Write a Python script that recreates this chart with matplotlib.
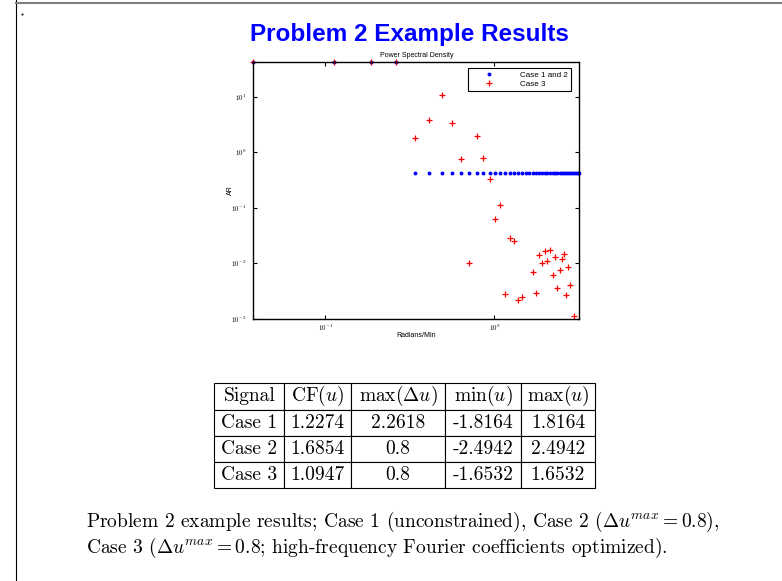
import matplotlib.pyplot as plt
import numpy as np
from matplotlib.table import Table
from matplotlib.lines import Line2D
from matplotlib.ticker import FuncFormatter, NullLocator

plt.rcParams['mathtext.fontset'] = 'cm'

# odd harmonics of the base frequency, rad/min
freq = [0.0374, 0.1122, 0.1870, 0.2618, 0.3366, 0.4114, 0.4862, 0.5610, 0.6358,
        0.7106, 0.7854, 0.8602, 0.9350, 1.0098, 1.0846, 1.1594, 1.2342, 1.3090,
        1.3838, 1.4586, 1.5334, 1.6082, 1.6830, 1.7578, 1.8326, 1.9074, 1.9822,
        2.0570, 2.1318, 2.2066, 2.2814, 2.3562, 2.4310, 2.5058, 2.5806, 2.6554,
        2.7302, 2.8050, 2.8798, 2.9546, 3.0294, 3.1042, 3.1790]
ar_case12 = [42.6, 42.6, 42.6, 42.6] + [0.42] * 39
nan = np.nan
ar_case3 = [42.6, 42.6, 42.6, 42.6, 1.79, 3.76, 10.6, 3.32, 0.748, 0.0102, 1.99,
            0.789, 0.331, 0.0634, 0.112, 0.0028, 0.0282, 0.0252, 0.00219, 0.0024,
            nan, nan, 0.00678, 0.00288, 0.0137, 0.0100, 0.0162, 0.0111, 0.0169,
            0.00608, 0.0131, 0.00349, 0.00759, 0.0119, 0.0147, 0.00266, 0.00847,
            0.00406, nan, 0.00113, nan, nan, nan]

col_labels = ['Signal', r'CF$(u)$', r'$\max(\Delta u)$', r'$\min(u)$', r'$\max(u)$']
signals = ['Case 1', 'Case 2', 'Case 3']
cf = ['1.2274', '1.6854', '1.0947']
max_du = ['2.2618', '0.8', '0.8']
min_u = ['-1.8164', '-2.4942', '-1.6532']
max_u = ['1.8164', '2.4942', '1.6532']

caption1 = r'Problem 2 example results; Case 1 (unconstrained), Case 2 ($\Delta u^{max} = 0.8$),'
caption2 = r'Case 3 ($\Delta u^{max} = 0.8$; high-frequency Fourier coefficients optimized).'

fig = plt.figure(figsize=(7.82, 5.81), dpi=100)

# slide frame
fig.add_artist(Line2D([16 / 782, 16 / 782], [0, 1], color='k', lw=0.8))
fig.add_artist(Line2D([16 / 782, 1], [1 - 2.5 / 581, 1 - 2.5 / 581], color='#808080', lw=1.5))
fig.add_artist(Line2D([22 / 782], [1 - 14 / 581], marker='.', ms=1, color='k', ls='none'))

fig.text(0.523, 0.9294, 'Problem 2 Example Results', ha='center', va='baseline',
         fontsize=17.5, fontweight='bold', color='#0000FF', family='Liberation Sans')

ax = fig.add_axes([0.3239, 0.4518, 0.4169, 0.442])
ax.plot(freq, ar_case12, 'o', color='#0000FF', ms=2.8, mew=0, clip_on=False, label='Case 1 and 2')
ax.plot(freq, ar_case3, '+', color='#FF0000', ms=4, mew=0.9, clip_on=False, label='Case 3')
ax.set_xscale('log')
ax.set_yscale('log')
ax.set_xlim(freq[0], freq[-1])
ax.set_ylim(1e-3, 42.6)
ax.set_xticks([0.1, 1])
ax.set_yticks([1e-3, 1e-2, 1e-1, 1, 10])
ax.xaxis.set_minor_locator(NullLocator())
ax.yaxis.set_minor_locator(NullLocator())
fmt = FuncFormatter(lambda v, p: r'$\mathsf{10^{%d}}$' % round(np.log10(v)))
ax.xaxis.set_major_formatter(fmt)
ax.yaxis.set_major_formatter(fmt)
ax.tick_params(direction='in', length=3, width=0.8, top=True, right=True, labelsize=5)
ax.tick_params(axis='y', pad=5)
ax.tick_params(axis='x', pad=3)
for s in ax.spines.values():
    s.set_linewidth(1.0)

ax.set_title('Power Spectral Density', fontsize=5, pad=3.4, family='Liberation Sans')
ax.set_xlabel('Radians/Min', fontsize=5, family='Liberation Sans')
ax.set_ylabel('AR', fontsize=5, family='Liberation Sans')
ax.xaxis.set_label_coords(0.5, -0.053)
ax.yaxis.set_label_coords(-0.06, 0.5)

leg = ax.legend(loc='upper right', bbox_to_anchor=(0.9736, 0.9743), borderaxespad=0,
                fancybox=False, edgecolor='k', framealpha=1, numpoints=1,
                prop={'family': 'Liberation Sans', 'size': 5.8},
                handlelength=4.5, handletextpad=1.6, borderpad=0.35, labelspacing=0.2)
leg.get_frame().set_linewidth(0.8)

# table
tax = fig.add_axes([0.274, 0.1596, 0.4868, 0.1807])
tax.axis('off')
widths = np.array([70, 66.7, 94, 76, 74])
widths = widths / widths.sum()
rows = [col_labels] + [list(r) for r in zip(signals, cf, max_du, min_u, max_u)]
tb = Table(tax, bbox=[0, 0, 1, 1])
for r, row in enumerate(rows):
    for c, txt in enumerate(row):
        cell = tb.add_cell(r, c, width=widths[c], height=1 / len(rows), text=txt, loc='center')
        cell.set_linewidth(0.8)
        cell.get_text().set_fontfamily('cmr10')
tb.auto_set_font_size(False)
tb.set_fontsize(14)
tax.add_table(tb)

fig.text(86 / 782, 1 - 527 / 581, caption1, fontsize=14, family='cmr10', va='baseline')
fig.text(86 / 782, 1 - 553 / 581, caption2, fontsize=14, family='cmr10', va='baseline')

fig.savefig('out.png', dpi=100)
